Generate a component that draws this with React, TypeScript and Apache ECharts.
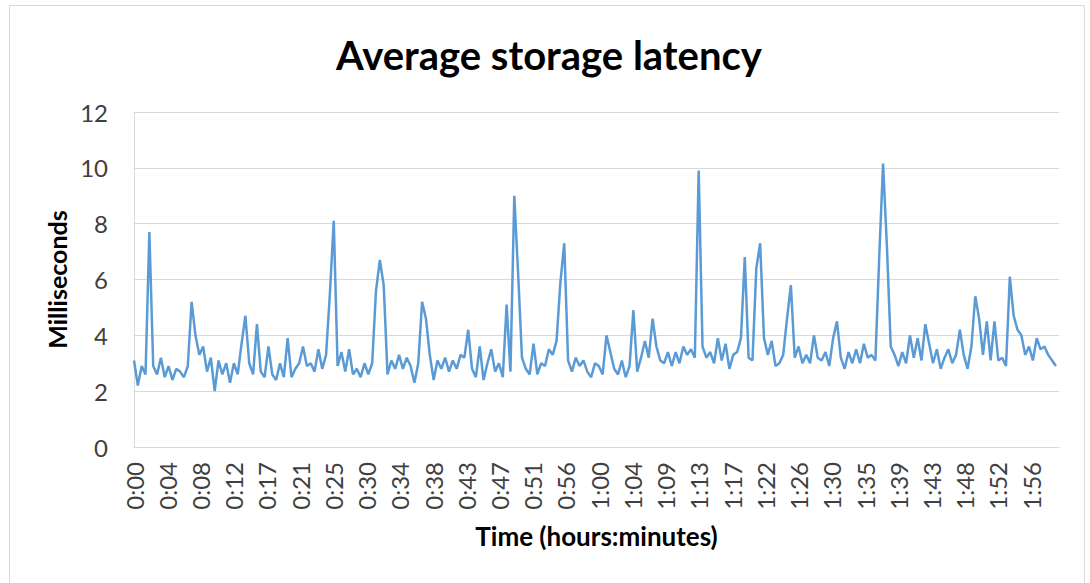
import React, { useEffect, useRef } from "react";
import * as echarts from "echarts";

// Sample spacing of the series (minutes) and spacing of the x tick labels (minutes)
const SAMPLE_STEP_MIN = 0.5;
const LABEL_STEP_MIN = 4.325;
const X_MAX_MIN = 120.4;

const TICK_LABELS = [
  "0:00", "0:04", "0:08", "0:12", "0:17", "0:21", "0:25", "0:30", "0:34", "0:38",
  "0:43", "0:47", "0:51", "0:56", "1:00", "1:04", "1:09", "1:13", "1:17", "1:22",
  "1:26", "1:30", "1:35", "1:39", "1:43", "1:48", "1:52", "1:56",
];

const Y_TICKS = [0, 2, 4, 6, 8, 10, 12];

// Average storage latency (ms), one value every 0.5 minute
const LATENCY_00_30 = [
  3.1, 2.2, 2.9, 2.6, 7.7, 2.9, 2.6, 3.2, 2.5, 2.9,
  2.4, 2.8, 2.7, 2.5, 2.9, 5.2, 4.0, 3.3, 3.6, 2.7,
  3.2, 2.0, 3.1, 2.6, 3.0, 2.3, 3.0, 2.6, 3.7, 4.7,
  3.0, 2.6, 4.4, 2.7, 2.5, 3.6, 2.6, 2.4, 3.0, 2.5,
  3.9, 2.5, 2.8, 3.0, 3.6, 2.9, 3.0, 2.7, 3.5, 2.8,
  3.3, 5.5, 8.1, 2.9, 3.4, 2.7, 3.5, 2.6, 2.8, 2.5,
];
const LATENCY_30_60 = [
  3.0, 2.6, 3.0, 5.6, 6.7, 5.8, 2.6, 3.1, 2.8, 3.3,
  2.8, 3.2, 2.9, 2.3, 3.0, 5.2, 4.6, 3.3, 2.4, 3.1,
  2.8, 3.2, 2.7, 3.1, 2.8, 3.3, 3.2, 4.2, 2.8, 2.5,
  3.6, 2.4, 3.0, 3.5, 2.7, 3.0, 2.5, 5.1, 2.7, 9.0,
  6.2, 3.2, 2.8, 2.6, 3.7, 2.6, 3.0, 2.9, 3.5, 3.3,
  3.8, 5.9, 7.3, 3.1, 2.7, 3.2, 2.9, 3.1, 2.7, 2.5,
];
const LATENCY_60_90 = [
  3.0, 2.9, 2.6, 4.0, 3.4, 2.8, 2.6, 3.1, 2.5, 2.9,
  4.9, 2.7, 3.2, 3.8, 3.2, 4.6, 3.6, 3.1, 3.0, 3.4,
  2.9, 3.4, 3.0, 3.6, 3.3, 3.5, 3.2, 9.9, 3.6, 3.2,
  3.4, 3.0, 3.9, 3.1, 3.7, 2.8, 3.3, 3.4, 3.9, 6.8,
  3.2, 3.1, 6.4, 7.3, 3.9, 3.3, 3.8, 2.9, 3.0, 3.3,
  4.6, 5.8, 3.2, 3.6, 3.0, 3.3, 3.0, 4.0, 3.2, 3.1,
];
const LATENCY_90_120 = [
  3.4, 2.9, 3.9, 4.5, 3.2, 2.8, 3.4, 3.0, 3.5, 3.0,
  3.7, 3.2, 3.3, 3.1, 6.8, 10.15, 7.2, 3.6, 3.3, 2.9,
  3.4, 3.0, 4.0, 3.2, 3.9, 3.1, 4.4, 3.7, 3.0, 3.5,
  2.8, 3.2, 3.5, 3.0, 3.3, 4.2, 3.3, 2.8, 3.6, 5.4,
  4.6, 3.3, 4.5, 3.1, 4.5, 3.1, 3.2, 2.9, 6.1, 4.7,
  4.2, 4.0, 3.3, 3.6, 3.1, 3.9, 3.5, 3.6, 3.3, 3.1,
  2.9,
];

const LATENCY = [...LATENCY_00_30, ...LATENCY_30_60, ...LATENCY_60_90, ...LATENCY_90_120];

const FONT = "Lato, 'Open Sans', sans-serif";

export default function App() {
  const ref = useRef<HTMLDivElement>(null);

  useEffect(() => {
    if (!ref.current) return;
    const chart = echarts.init(ref.current, null, { renderer: "svg" });
    const seriesData = LATENCY.map((v, i) => [i * SAMPLE_STEP_MIN, v]);

    chart.setOption({
      animation: false,
      backgroundColor: "#ffffff",
      textStyle: { fontFamily: FONT },
      graphic: [
        {
          type: "rect",
          shape: { x: 9.5, y: 5.5, width: 1075, height: 600 },
          style: { fill: "none", stroke: "#d9d9d9", lineWidth: 1 },
          silent: true,
        },
        {
          type: "text",
          x: 549,
          y: 55,
          style: {
            text: "Average storage latency",
            textAlign: "center",
            textVerticalAlign: "middle",
            font: `bold 40px ${FONT}`,
            fill: "#000000",
          },
        },
      ],
      grid: { left: 134, right: 31, top: 112, bottom: 136, containLabel: false },
      xAxis: {
        type: "value",
        min: 0,
        max: X_MAX_MIN,
        interval: LABEL_STEP_MIN,
        name: "Time (hours:minutes)",
        nameLocation: "middle",
        nameGap: 76,
        nameTextStyle: { fontFamily: FONT, fontWeight: "bold", fontSize: 26, color: "#000000" },
        axisLine: { show: true, lineStyle: { color: "#d9d9d9", width: 1 } },
        axisTick: { show: false },
        splitLine: { show: false },
        axisLabel: {
          rotate: 90,
          margin: 15,
          fontSize: 24,
          color: "#404040",
          fontFamily: FONT,
          showMaxLabel: false,
          formatter: (v: number) => {
            const idx = Math.round(v / LABEL_STEP_MIN);
            if (Math.abs(v - idx * LABEL_STEP_MIN) > 0.01) return "";
            return TICK_LABELS[idx] ?? "";
          },
        },
      },
      yAxis: {
        type: "value",
        min: Y_TICKS[0],
        max: Y_TICKS[Y_TICKS.length - 1],
        interval: 2,
        name: "Milliseconds",
        nameLocation: "middle",
        nameGap: 60,
        nameRotate: 90,
        nameTextStyle: { fontFamily: FONT, fontWeight: "bold", fontSize: 25, color: "#000000" },
        axisLine: { show: true, lineStyle: { color: "#d9d9d9", width: 1 } },
        axisTick: { show: false },
        splitLine: { show: true, lineStyle: { color: "#d9d9d9", width: 1 } },
        axisLabel: { margin: 26, fontSize: 24, color: "#404040", fontFamily: FONT },
      },
      series: [
        {
          type: "line",
          data: seriesData,
          showSymbol: false,
          symbol: "none",
          lineStyle: { color: "#5b9bd5", width: 2.5 },
          itemStyle: { color: "#5b9bd5" },
        },
      ],
    });

    return () => chart.dispose();
  }, []);

  return (
    <div
      ref={ref}
      style={{ position: "fixed", left: 0, top: 0, width: 1090, height: 583 }}
    />
  );
}
